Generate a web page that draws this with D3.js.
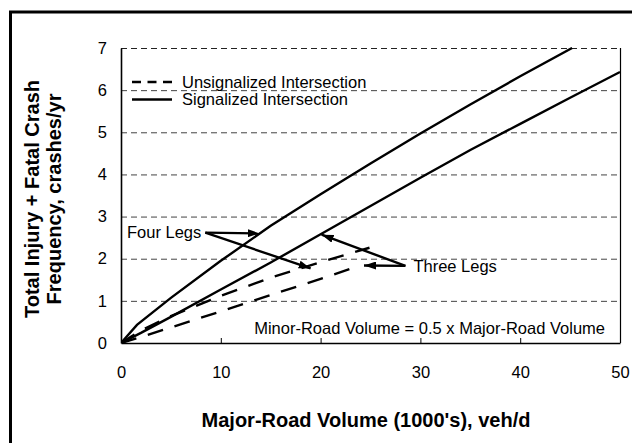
<!DOCTYPE html>
<html>
<head>
<meta charset="utf-8">
<script src="https://cdn.jsdelivr.net/npm/d3@7"></script>
<style>
  html, body { margin: 0; padding: 0; background: #fff; }
  svg { display: block; font-family: "Liberation Sans", Arial, sans-serif; }
</style>
</head>
<body>
<svg id="chart" width="632" height="443"></svg>
<script>
// Major-road volume (1000's veh/d) and predicted crash frequency per intersection type
const sig4Volume    = [0, 1.6, 5, 10, 15, 20, 25, 30, 35, 40, 45.2];
const sig4Crashes   = [0, 0.43, 1.07, 1.95, 2.78, 3.53, 4.26, 4.97, 5.66, 6.33, 7.0];
const sig3Volume    = [0, 2, 5, 10, 15, 20, 25, 30, 35, 40, 45, 50];
const sig3Crashes   = [0, 0.24, 0.62, 1.27, 1.91, 2.58, 3.25, 3.92, 4.58, 5.2, 5.82, 6.43];
const unsig4Volume  = [0, 2, 5, 10, 15, 20, 24.9];
const unsig4Crashes = [0, 0.3, 0.64, 1.12, 1.55, 1.92, 2.26];
const unsig3Volume  = [0, 2, 5, 10, 15, 20, 24];
const unsig3Crashes = [0, 0.14, 0.37, 0.75, 1.14, 1.52, 1.84];

const xTicks = [0, 10, 20, 30, 40, 50];
const yTicks = [0, 1, 2, 3, 4, 5, 6, 7];

const legendLabels = ["Unsignalized Intersection", "Signalized Intersection"];

// Callout arrows: label anchor and the curve points they indicate (data units)
const fourLegsLabel  = { text: "Four Legs",  x: 0.6,  y: 2.62 };
const fourLegsTips   = [[13.9, 2.6], [19.0, 1.77]];
const threeLegsLabel = { text: "Three Legs", x: 29.3, y: 1.83 };
const threeLegsTips  = [[20.1, 2.57], [24.35, 1.84]];
const noteText = "Minor-Road Volume = 0.5 x Major-Road Volume";

const svg = d3.select("#chart");
const margin = { left: 121, top: 48 };
const plotW = 620 - margin.left, plotH = 343 - margin.top;
const FONT = "Liberation Sans, Arial, sans-serif";

// outer frame (extends past the right and bottom edges)
svg.append("rect")
  .attr("x", 10.5).attr("y", 12).attr("width", 700).attr("height", 500)
  .attr("fill", "none").attr("stroke", "#000").attr("stroke-width", 3);

const x = d3.scaleLinear().domain([0, 50]).range([0, plotW]);
const y = d3.scaleLinear().domain([0, 7]).range([plotH, 0]);

const g = svg.append("g").attr("transform", `translate(${margin.left},${margin.top})`);

const defs = svg.append("defs");
defs.append("clipPath").attr("id", "plotClip")
  .append("rect").attr("x", 0).attr("y", -1).attr("width", plotW).attr("height", plotH + 1);

// horizontal gridlines
g.append("g").selectAll("line").data(yTicks.filter(d => d > 0)).join("line")
  .attr("x1", 0).attr("x2", plotW)
  .attr("y1", d => y(d) + 0.5).attr("y2", d => y(d) + 0.5)
  .attr("stroke", d => d === 7 ? "#222" : "#444")
  .attr("stroke-width", 1)
  .attr("stroke-dasharray", "6,4");

// right border
g.append("line").attr("x1", plotW + 0.5).attr("x2", plotW + 0.5)
  .attr("y1", 0).attr("y2", plotH).attr("stroke", "#000").attr("stroke-width", 1.2);

// x axis: labels below, short ticks pointing inward
const xAxis = d3.axisBottom(x).tickValues(xTicks).tickSize(0).tickPadding(0).tickFormat(d3.format("d"));
const xg = g.append("g").attr("transform", `translate(0,${plotH})`).call(xAxis);
xg.select(".domain").attr("stroke", "#000").attr("stroke-width", 1.6);
xg.selectAll(".tick line").remove();
xg.selectAll(".tick text").attr("y", 35).attr("dy", 0).attr("font-size", 16.5)
  .attr("fill", "#000").attr("font-family", FONT);
g.append("g").selectAll("line").data(xTicks.filter(d => d > 0 && d < 50)).join("line")
  .attr("x1", d => x(d) + 0.5).attr("x2", d => x(d) + 0.5)
  .attr("y1", plotH).attr("y2", plotH - 5)
  .attr("stroke", "#000").attr("stroke-width", 1);

// y axis: labels only
const yAxis = d3.axisLeft(y).tickValues(yTicks).tickSize(0).tickPadding(14).tickFormat(d3.format("d"));
const yg = g.append("g").call(yAxis);
yg.select(".domain").attr("stroke", "#000").attr("stroke-width", 1.6);
yg.selectAll(".tick text").attr("font-size", 16.5).attr("fill", "#000").attr("font-family", FONT);

// curves
const line = d3.line().x(d => x(d[0])).y(d => y(d[1]));
const series = [
  { vol: sig4Volume,   crash: sig4Crashes,   dashed: false },
  { vol: sig3Volume,   crash: sig3Crashes,   dashed: false },
  { vol: unsig4Volume, crash: unsig4Crashes, dashed: true },
  { vol: unsig3Volume, crash: unsig3Crashes, dashed: true }
];
const curves = g.append("g").attr("clip-path", "url(#plotClip)");
series.forEach(s => {
  curves.append("path")
    .datum(s.vol.map((v, i) => [v, s.crash[i]]))
    .attr("d", line)
    .attr("fill", "none").attr("stroke", "#000").attr("stroke-width", 2.4)
    .attr("stroke-dasharray", s.dashed ? "16,12" : null);
});

// legend
const legend = g.append("g");
legendLabels.forEach((label, i) => {
  const ly = 34 + i * 17.5;
  legend.append("line").attr("x1", 11).attr("x2", 51).attr("y1", ly).attr("y2", ly)
    .attr("stroke", "#000").attr("stroke-width", 2.6)
    .attr("stroke-dasharray", i === 0 ? "9,6.5" : null);
  legend.append("text").attr("x", 61).attr("y", ly).attr("dy", "0.35em")
    .attr("font-size", 16.5).attr("fill", "#000").text(label);
});

// arrows
defs.append("marker").attr("id", "arrowHead")
  .attr("viewBox", "0 0 12 8").attr("refX", 12).attr("refY", 4)
  .attr("markerWidth", 12).attr("markerHeight", 8).attr("markerUnits", "userSpaceOnUse")
  .attr("orient", "auto")
  .append("path").attr("d", "M0,0 L12,4 L0,8 Z").attr("fill", "#000");

const notes = g.append("g");
const fourTxt = notes.append("text").attr("x", x(fourLegsLabel.x)).attr("y", y(fourLegsLabel.y))
  .attr("dy", "0.35em").attr("font-size", 16.5).attr("fill", "#000").text(fourLegsLabel.text);
const fourEnd = x(fourLegsLabel.x) + fourTxt.node().getComputedTextLength() + 4;
fourLegsTips.forEach(t => {
  notes.append("line").attr("x1", fourEnd).attr("y1", y(fourLegsLabel.y))
    .attr("x2", x(t[0])).attr("y2", y(t[1]))
    .attr("stroke", "#000").attr("stroke-width", 2.4).attr("marker-end", "url(#arrowHead)");
});
notes.append("text").attr("x", x(threeLegsLabel.x)).attr("y", y(threeLegsLabel.y))
  .attr("dy", "0.35em").attr("font-size", 16.5).attr("fill", "#000").text(threeLegsLabel.text);
const threeStart = x(threeLegsLabel.x) - 8;
threeLegsTips.forEach(t => {
  notes.append("line").attr("x1", threeStart).attr("y1", y(threeLegsLabel.y))
    .attr("x2", x(t[0])).attr("y2", y(t[1]))
    .attr("stroke", "#000").attr("stroke-width", 2.4).attr("marker-end", "url(#arrowHead)");
});

notes.append("text").attr("x", plotW - 15).attr("y", plotH - 15).attr("dy", "0.35em")
  .attr("text-anchor", "end").attr("font-size", 16.5).attr("fill", "#000").text(noteText);

// axis titles
svg.append("text").attr("x", 366).attr("y", 427)
  .attr("text-anchor", "middle").attr("font-size", 20).attr("font-weight", "bold")
  .attr("fill", "#000").text("Major-Road Volume (1000's), veh/d");

const yTitle = svg.append("text").attr("transform", "translate(39,199) rotate(-90)")
  .attr("text-anchor", "middle").attr("font-size", 20).attr("font-weight", "bold").attr("fill", "#000");
yTitle.append("tspan").attr("x", 0).attr("y", 0).text("Total Injury + Fatal Crash");
yTitle.append("tspan").attr("x", 0).attr("y", 22).text("Frequency, crashes/yr");
</script>
</body>
</html>
